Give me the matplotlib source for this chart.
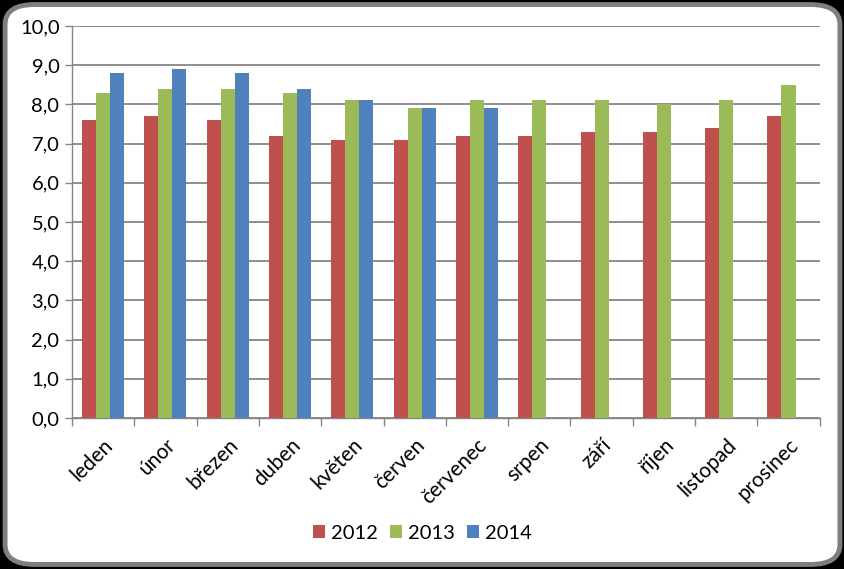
import matplotlib.pyplot as plt
import numpy as np
from matplotlib.patches import FancyBboxPatch

months = ['leden', 'únor', 'březen', 'duben', 'květen', 'červen', 'červenec',
          'srpen', 'září', 'říjen', 'listopad', 'prosinec']
v2012 = [7.6, 7.7, 7.6, 7.2, 7.1, 7.1, 7.2, 7.2, 7.3, 7.3, 7.4, 7.7]
v2013 = [8.3, 8.4, 8.4, 8.3, 8.1, 7.9, 8.1, 8.1, 8.1, 8.0, 8.1, 8.5]
v2014 = [8.8, 8.9, 8.8, 8.4, 8.1, 7.9, 7.9, np.nan, np.nan, np.nan, np.nan, np.nan]
series = [('2012', v2012, '#C0504D'), ('2013', v2013, '#9BBB59'), ('2014', v2014, '#4F81BD')]

plt.rcParams['font.family'] = ['Lato', 'DejaVu Sans']

fig = plt.figure(figsize=(8.45, 5.69), dpi=100)
fig.patch.set_facecolor('black')

# rounded white panel with gray border
panel = FancyBboxPatch((0.006, 0.008), 0.988, 0.984,
                       boxstyle='round,pad=0,rounding_size=0.035',
                       transform=fig.transFigure, facecolor='white',
                       edgecolor='#7F7F7F', linewidth=3.5, zorder=-5)
fig.patches.append(panel)

ax = fig.add_axes([0.0852, 0.2654, 0.8848, 0.6889])
ax.set_facecolor('none')
ax.set_zorder(2)

x = np.arange(len(months))
w = 0.225
for i, (name, vals, color) in enumerate(series):
    ax.bar(x + (i - 1) * w, vals, width=w, color=color, label=name, zorder=3)

ax.set_xlim(-0.5, len(months) - 0.5)
ax.set_ylim(0, 10)
ax.set_yticks(np.arange(0, 11, 1))
ax.set_yticklabels([f'{v:.1f}'.replace('.', ',') for v in range(0, 11)], fontsize=14.5)
ax.yaxis.grid(True, color='#868686', linewidth=1.3, zorder=0)
ax.set_axisbelow(True)

ax.set_xticks(x)
ax.set_xticklabels(months, rotation=45, ha='right', rotation_mode='anchor', fontsize=15)
ax.set_xticks(np.arange(-0.5, len(months)), minor=True)
ax.tick_params(axis='x', which='major', length=0, pad=12)
ax.tick_params(axis='x', which='minor', length=6, color='#868686', width=1)
ax.tick_params(axis='y', length=5, color='#868686', width=1, pad=4)

for s in ['top', 'right']:
    ax.spines[s].set_visible(False)
for s in ['left', 'bottom']:
    ax.spines[s].set_color('#868686')
    ax.spines[s].set_linewidth(1)

fig.legend(loc='center', bbox_to_anchor=(0.5, 0.063), ncol=3, frameon=False,
           fontsize=14.5, handlelength=0.6, handleheight=0.6, handletextpad=0.3,
           columnspacing=0.6)

fig.savefig('out.png', dpi=100, facecolor=fig.get_facecolor())
